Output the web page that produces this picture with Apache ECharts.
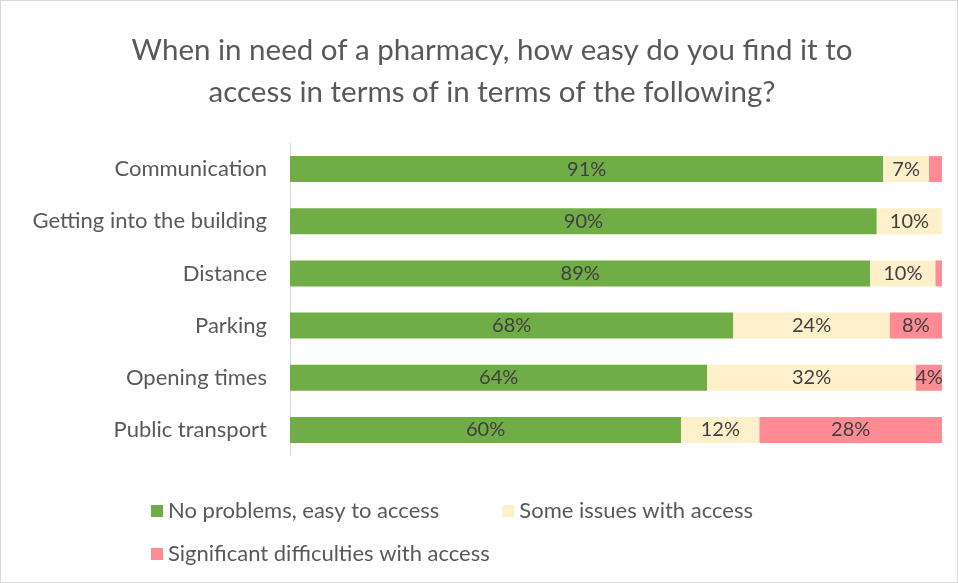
<!DOCTYPE html>
<html>
<head>
<meta charset="utf-8">
<script src="https://cdn.jsdelivr.net/npm/echarts@6/dist/echarts.min.js"></script>
<style>
  html, body { margin: 0; padding: 0; background: #fff; }
  #chart { width: 958px; height: 583px; box-sizing: border-box; border: 1px solid #d9d9d9; }
</style>
</head>
<body>
<div id="chart"></div>
<script>
// categories, top to bottom
const categories = ['Communication', 'Getting into the building', 'Distance', 'Parking', 'Opening times', 'Public transport']
const seriesNames = ['No problems, easy to access', 'Some issues with access', 'Significant difficulties with access']
const noProblems = [91, 90, 89, 68, 64, 60]
const someIssues = [7, 10, 10, 24, 32, 12]
const difficulties = [2, 0, 1, 8, 4, 28]
const colors = ['#70AD47', '#FFF0CC', '#FF8C94']

const font = 'Lato, "Open Sans", sans-serif'
const myChart = echarts.init(document.getElementById('chart'))

const makeSeries = (name, data, color) => ({
  name: name,
  type: 'bar',
  stack: 'total',
  barWidth: 26,
  data: data,
  itemStyle: { color: color },
  label: {
    show: true,
    position: 'inside',
    color: '#404040',
    fontSize: 20,
    fontFamily: font,
    formatter: p => (p.value >= 3 ? p.value + '%' : '')
  }
})

const legendText = { color: '#595959', fontSize: 22, fontFamily: font }

const option = {
  animation: false,
  title: {
    text: 'When in need of a pharmacy, how easy do you find it to\naccess in terms of in terms of the following?',
    left: 486,
    top: 23,
    textAlign: 'center',
    textStyle: {
      color: '#595959',
      fontSize: 29.5,
      fontWeight: 'normal',
      fontFamily: font,
      lineHeight: 42
    }
  },
  grid: { left: 289, right: 15, top: 142, bottom: 126 },
  xAxis: {
    type: 'value',
    min: 0,
    max: 100,
    show: false
  },
  yAxis: {
    type: 'category',
    inverse: true,
    data: categories,
    axisLine: { show: true, lineStyle: { color: '#d9d9d9' } },
    axisTick: { show: false },
    axisLabel: { color: '#595959', fontSize: 22, fontFamily: font, margin: 23 }
  },
  legend: [
    {
      data: seriesNames.slice(0, 2),
      left: 145,
      top: 494,
      itemWidth: 12,
      itemHeight: 12,
      itemGap: 63,
      icon: 'rect',
      textStyle: legendText
    },
    {
      data: seriesNames.slice(2),
      left: 145,
      top: 537,
      itemWidth: 12,
      itemHeight: 12,
      icon: 'rect',
      textStyle: legendText
    }
  ],
  series: [
    makeSeries(seriesNames[0], noProblems, colors[0]),
    makeSeries(seriesNames[1], someIssues, colors[1]),
    makeSeries(seriesNames[2], difficulties, colors[2])
  ]
}
myChart.setOption(option)
</script>
</body>
</html>
